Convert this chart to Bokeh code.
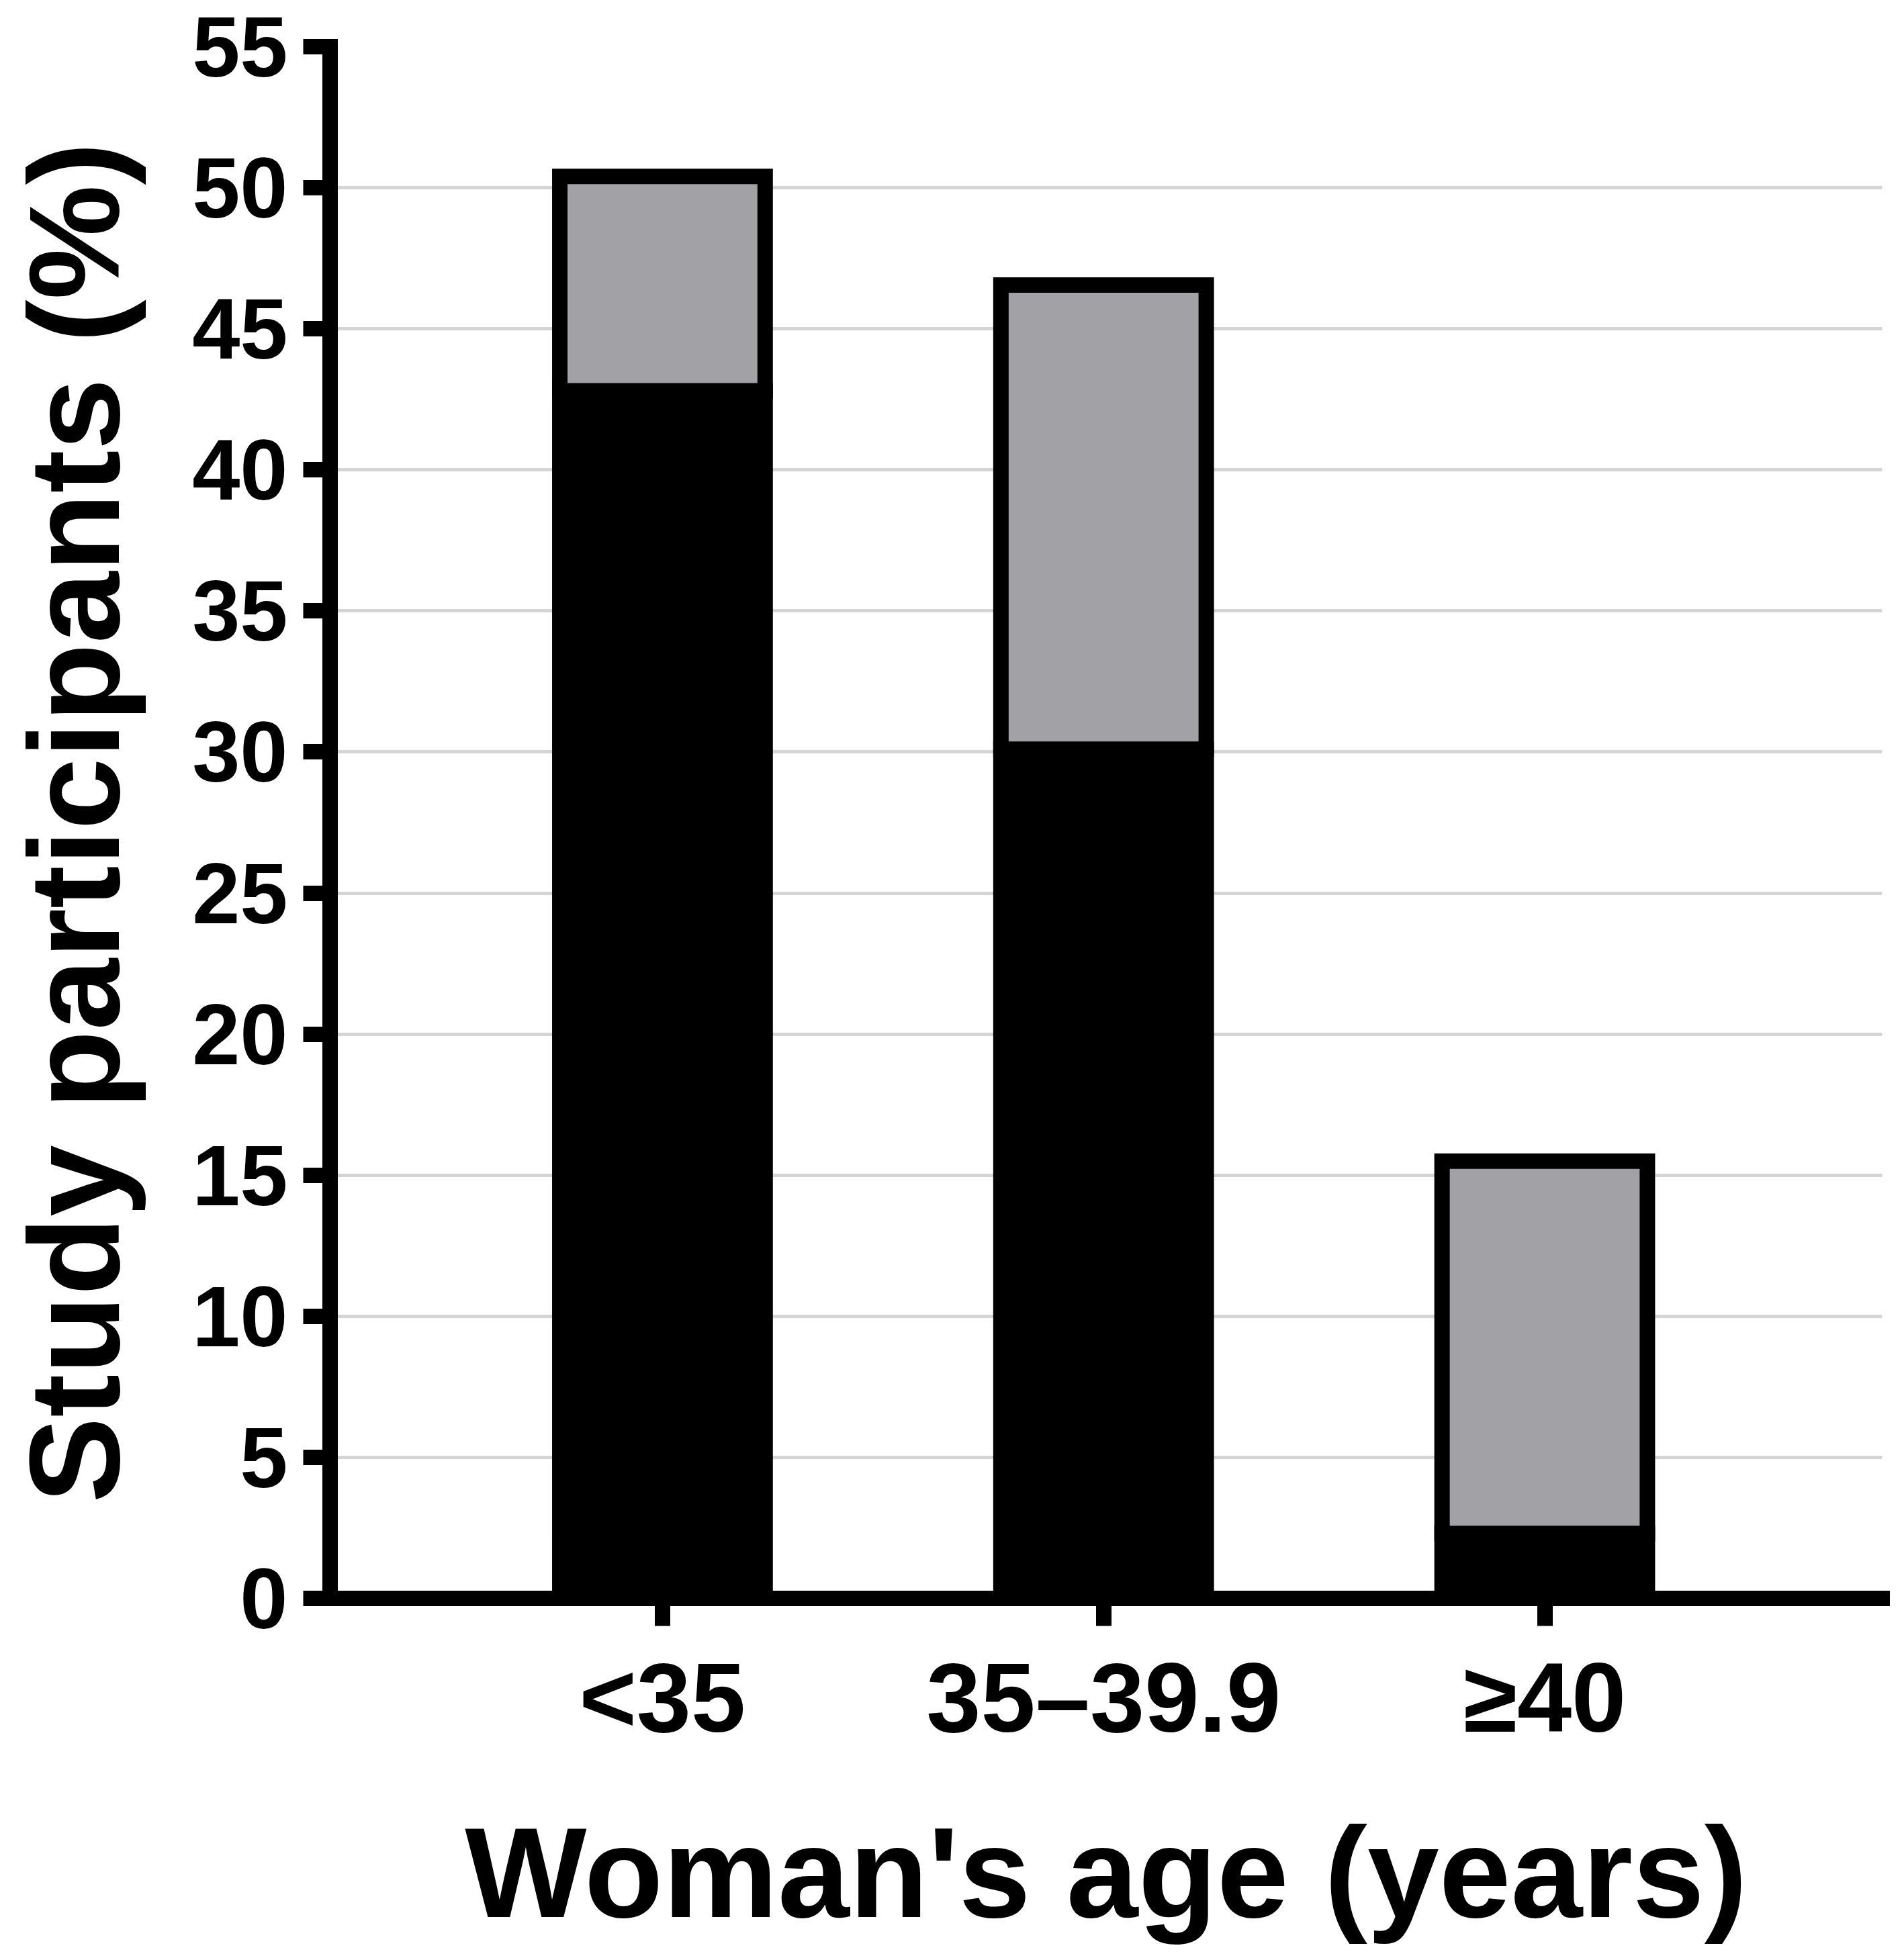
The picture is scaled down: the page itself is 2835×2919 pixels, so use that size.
from bokeh.plotting import figure
from bokeh.models import ColumnDataSource, Range1d, FixedTicker
from bokeh.embed import file_html
from bokeh.resources import INLINE

# ---- data ----
categories = ["<35", "35\u201339.9", "\u226540"]
x_pos = [0, 1, 2]
black_part = [42.8, 30.1, 2.3]     # lower (black) segment, %
gray_part = [7.6, 16.45, 13.2]     # upper (gray) segment, %
y_ticks = [0, 5, 10, 15, 20, 25, 30, 35, 40, 45, 50, 55]
grid_ticks = [5, 10, 15, 20, 25, 30, 35, 40, 45, 50]

source = ColumnDataSource(dict(x=x_pos, black=black_part, gray=gray_part))

FONT = "Liberation Sans"

p = figure(
    width=2819, height=2900,
    x_range=Range1d(-0.7535, 2.765), y_range=Range1d(0, 55),
    output_backend="svg", toolbar_location=None,
    min_border_left=482, min_border_right=17,
    min_border_top=69, min_border_bottom=520,
)
p.outline_line_color = None
p.background_fill_color = "white"
p.border_fill_color = "white"

p.vbar_stack(["black", "gray"], x="x", width=0.4655, source=source,
             fill_color=["black", "#a2a1a6"], line_color="black",
             line_width=23, line_join="miter")

# grid
p.xgrid.visible = False
p.ygrid.ticker = FixedTicker(ticks=grid_ticks)
p.ygrid.grid_line_color = "#d4d4d4"
p.ygrid.grid_line_width = 5

# y axis
ya = p.yaxis[0]
ya.ticker = FixedTicker(ticks=y_ticks)
ya.axis_line_width = 23
ya.axis_line_color = "black"
ya.axis_line_cap = "square"
ya.major_tick_line_width = 23
ya.major_tick_line_color = "black"
ya.major_tick_out = 40
ya.major_tick_in = 0
ya.minor_tick_line_color = None
ya.major_label_text_font = FONT
ya.major_label_text_font_style = "bold"
ya.major_label_text_font_size = "128px"
ya.major_label_text_color = "black"
ya.major_label_standoff = 23
ya.axis_label = "Study participants (%)"
ya.axis_label_text_font = FONT
ya.axis_label_text_font_style = "bold"
ya.axis_label_text_font_size = "192px"
ya.axis_label_text_color = "black"
ya.axis_label_standoff = 65

# x axis
xa = p.xaxis[0]
xa.ticker = FixedTicker(ticks=x_pos)
xa.major_label_overrides = {x: c for x, c in zip(x_pos, categories)}
xa.axis_line_width = 23
xa.axis_line_color = "black"
xa.axis_line_cap = "square"
xa.major_tick_line_width = 23
xa.major_tick_line_color = "black"
xa.major_tick_out = 41
xa.major_tick_in = 0
xa.minor_tick_line_color = None
xa.major_label_text_font = FONT
xa.major_label_text_font_style = "bold"
xa.major_label_text_font_size = "146px"
xa.major_label_text_color = "black"
xa.major_label_standoff = 25
xa.axis_label = "Woman's age (years)"
xa.axis_label_text_font = FONT
xa.axis_label_text_font_style = "bold"
xa.axis_label_text_font_size = "192px"
xa.axis_label_text_color = "black"
xa.axis_label_standoff = 68

open("out.html", "w").write(file_html(p, INLINE))
